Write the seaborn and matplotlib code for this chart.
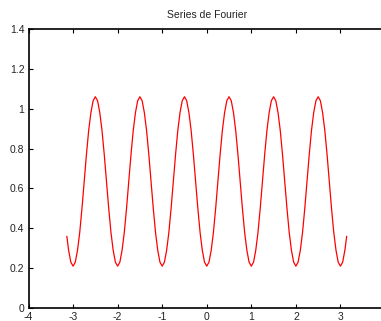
import numpy as np
import pandas as pd
import matplotlib
matplotlib.use("Agg")
import matplotlib.pyplot as plt
import seaborn as sns

title = "Series de Fourier"
x_ticks = [-4, -3, -2, -1, 0, 1, 2, 3, 4]
x_tick_labels = ["-4", "-3", "-2", "-1", "0", "1", "2", "3", ""]
y_ticks = [0, 0.2, 0.4, 0.6, 0.8, 1.0, 1.2, 1.4]
y_tick_labels = ["0", "0.2", "0.4", "0.6", "0.8", "1", "1.2", "1.4"]

# sample positions: -3.14, then -3.10 .. 3.10 every 0.05, then 3.14
x_vals = [-3.14] + list(np.round(np.arange(-3.10, 3.1001, 0.05), 2)) + [3.14]

# values
y_vals = [
    0.36, 0.29, 0.23,
    0.21, 0.23, 0.29, 0.38, 0.50, 0.635, 0.77, 0.89, 0.98, 1.04, 1.06, 1.04, 0.98, 0.89, 0.77, 0.635, 0.50, 0.38, 0.29, 0.23,
    0.21, 0.23, 0.29, 0.38, 0.50, 0.635, 0.77, 0.89, 0.98, 1.04, 1.06, 1.04, 0.98, 0.89, 0.77, 0.635, 0.50, 0.38, 0.29, 0.23,
    0.21, 0.23, 0.29, 0.38, 0.50, 0.635, 0.77, 0.89, 0.98, 1.04, 1.06, 1.04, 0.98, 0.89, 0.77, 0.635, 0.50, 0.38, 0.29, 0.23,
    0.21, 0.23, 0.29, 0.38, 0.50, 0.635, 0.77, 0.89, 0.98, 1.04, 1.06, 1.04, 0.98, 0.89, 0.77, 0.635, 0.50, 0.38, 0.29, 0.23,
    0.21, 0.23, 0.29, 0.38, 0.50, 0.635, 0.77, 0.89, 0.98, 1.04, 1.06, 1.04, 0.98, 0.89, 0.77, 0.635, 0.50, 0.38, 0.29, 0.23,
    0.21, 0.23, 0.29, 0.38, 0.50, 0.635, 0.77, 0.89, 0.98, 1.04, 1.06, 1.04, 0.98, 0.89, 0.77, 0.635, 0.50, 0.38, 0.29, 0.23,
    0.21, 0.23, 0.29, 0.36,
]

df = pd.DataFrame({"x": x_vals, "y": y_vals})

sns.set_style("white")
plt.rcParams["font.family"] = ["Liberation Sans", "DejaVu Sans"]

fig = plt.figure(figsize=(3.81, 3.21), dpi=100)
ax = fig.add_axes([28.5 / 381, 13 / 321, (385 - 28.5) / 381, (308 - 29) / 321])

sns.lineplot(data=df, x="x", y="y", ax=ax, color="#ff0000", linewidth=0.9,
             estimator=None, sort=False)

ax.set_xlim(-4, 4)
ax.set_ylim(0, 1.4)
ax.set_xticks(x_ticks)
ax.set_xticklabels(x_tick_labels)
ax.set_yticks(y_ticks)
ax.set_yticklabels(y_tick_labels)
ax.set_xlabel("")
ax.set_ylabel("")
ax.set_title(title, fontsize=7.5, color="#222222", pad=8)

ax.tick_params(direction="in", length=3, width=0.8, colors="#000000",
               labelsize=7.5, labelcolor="#222222", top=True, right=True,
               bottom=True, left=True, pad=2)
ax.tick_params(axis="x", pad=3)
ax.tick_params(axis="y", pad=3)
for s in ax.spines.values():
    s.set_color("#000000")
    s.set_linewidth(1.2)
    s.set_visible(True)

fig.savefig("out.png", dpi=100)
